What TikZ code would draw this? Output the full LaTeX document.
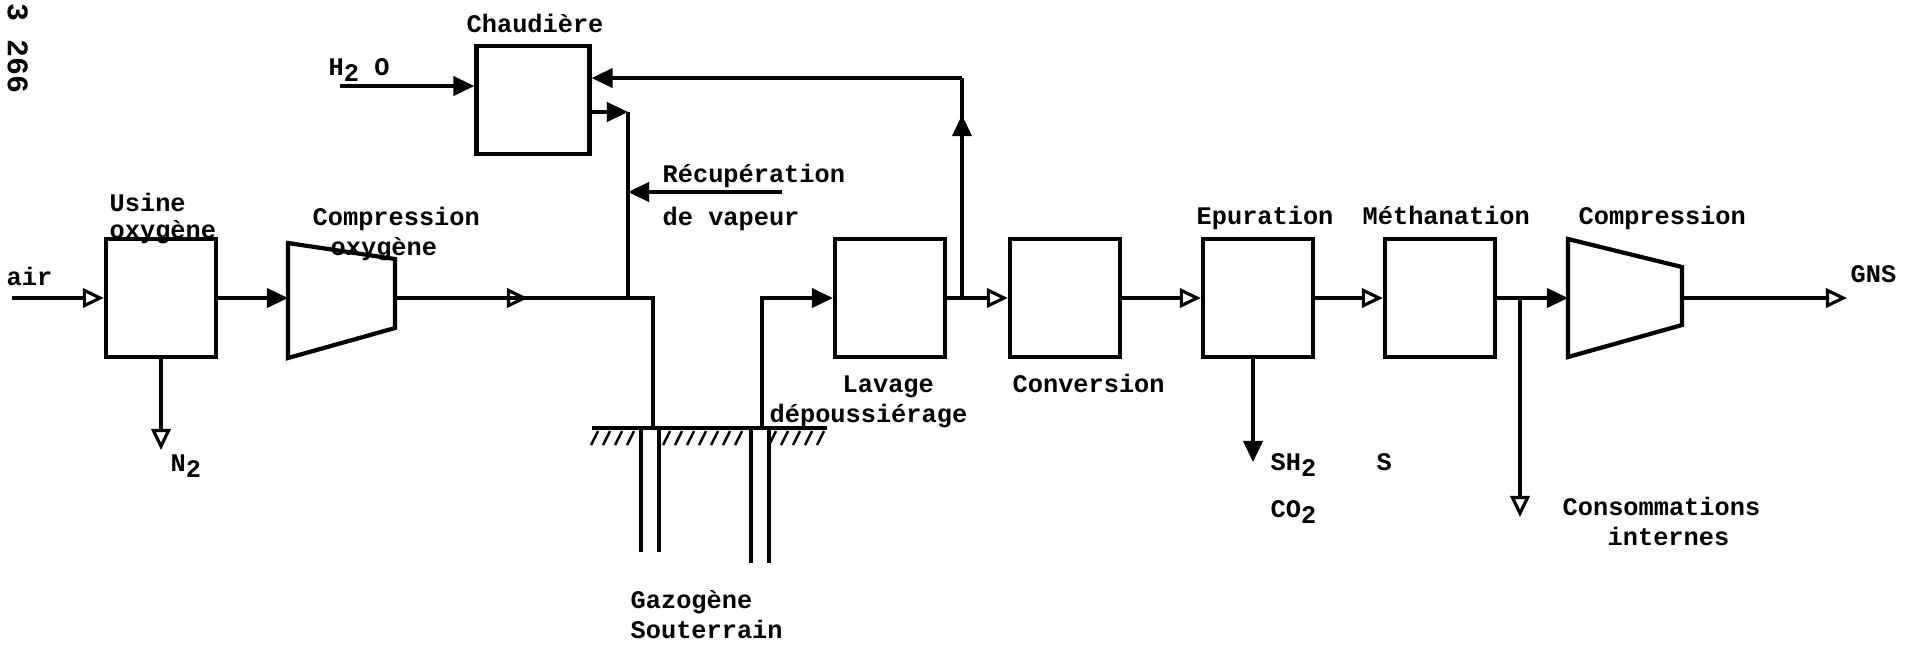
\documentclass[tikz,border=0pt]{standalone}
\usepackage{fontspec}
\setmonofont{Liberation Mono}
\usetikzlibrary{arrows.meta, positioning, calc}
\newcommand{\indice}[1]{\raisebox{-0.45ex}{#1}}

\begin{document}
\begin{tikzpicture}[
  x=0.01cm, y=-0.01cm,
  font=\ttfamily\bfseries\fontsize{7.2}{8.6}\selectfont,
  unit/.style={draw, line width=1.2pt, inner sep=0pt, minimum width=1.1cm, minimum height=1.18cm},
  pipe/.style={line width=0.9pt},
  flow/.style={pipe, -{Triangle[length=6pt, width=5.5pt]}},
  flowopen/.style={pipe, -{Triangle[open, length=6pt, width=5.5pt]}},
  lbl/.style={inner sep=0pt, anchor=base west}
]
\useasboundingbox (0,0) rectangle (1905,647);

\node[unit] (usine) at (161,298) {};
\node[unit, minimum width=1.13cm, minimum height=1.08cm] (chaudiere) at (533,100) {};
\node[unit] (lavage) at (890,298) {};
\node[unit] (conversion) at (1065,298) {};
\node[unit] (epuration) at (1258,298) {};
\node[unit] (methanation) at (1440,298) {};

\coordinate (c1in) at (288,298);
\coordinate (c1out) at (395,298);
\draw[line width=1.2pt] (288,243) -- (395,259) -- (395,328) -- (288,358) -- cycle;
\coordinate (c2in) at (1568,298);
\coordinate (c2out) at (1682,298);
\draw[line width=1.2pt] (1568,239) -- (1682,267) -- (1682,325) -- (1568,357) -- cycle;

\coordinate (airin) at (12,298);
\coordinate (n2) at (161,450);
\coordinate (m1) at (528,298);
\coordinate (j1) at (628,298);
\coordinate (puitsA) at (653,428);
\coordinate (puitsB) at (762,428);
\coordinate (vap) at (628,112);
\coordinate (recup) at (782,192);
\coordinate (h2o) at (340,86);
\coordinate (solW) at (592,428);
\coordinate (solE) at (827,428);
\coordinate (j2) at (962,298);
\coordinate (m2) at (962,115);
\coordinate (ret) at (962,78);
\coordinate (sh2) at (1253,462);
\coordinate (j3) at (1520,298);
\coordinate (conso) at (1520,517);
\coordinate (gns) at (1847,298);

\draw[flowopen] (airin) -- (usine.west);
\draw[flowopen] (usine.south) -- (n2);
\draw[flow] (usine.east) -- (c1in);
\draw[pipe] (c1out) -| (puitsA);
\draw[flowopen] (c1out) -- (m1);
\draw[flow] (h2o) -- (h2o -| chaudiere.west);
\draw[flow] (chaudiere.east |- vap) -- (vap);
\draw[pipe] (vap) -- (j1);
\draw[flow] (recup) -- (recup -| j1);

\draw[pipe] (solW) -- (solE);
\foreach \x in {598,610,...,634, 670,682,...,742, 776,788,...,824}
  \draw[line width=0.7pt] (\x,431) -- ++(-7,14);
\foreach \x/\b in {641/552, 659/552, 751/563, 769/563}
  \draw[pipe] (\x,428) -- (\x,\b);

\draw[flow] (puitsB) |- (lavage.west);
\draw[flowopen] (lavage.east) -- (conversion.west);
\draw[pipe] (j2) -- (ret);
\draw[flow] (j2) -- (m2);
\draw[flow] (ret) -- (ret -| chaudiere.east);
\draw[flowopen] (conversion.east) -- (epuration.west);
\draw[flow] (epuration.south -| sh2) -- (sh2);
\draw[flowopen] (epuration.east) -- (methanation.west);
\draw[flow] (methanation.east) -- (c2in);
\draw[flowopen] (j3) -- (conso);
\draw[flowopen] (c2out) -- (gns);

\node[lbl, rotate=-90, font=\ttfamily\bfseries\fontsize{8.5}{10}\selectfont] (page) at (8,3) {3 266};
\node[lbl] (airlbl) at (6,285) {air};
\node[lbl] (usinelbl) at (109,211) {Usine};
\node[lbl] (usinelbl2) at (109,238) {oxygène};
\node[lbl] (comp1lbl) at (312,225) {Compression};
\node[lbl] (comp1lbl2) at (330,255) {oxygène};
\node[lbl] (chaudlbl) at (466,32) {Chaudière};
\node[lbl] (h2olbl) at (328,75) {H\indice{2} O};
\node[lbl] (recuplbl) at (662,182) {Récupération};
\node[lbl] (recuplbl2) at (662,225) {de vapeur};
\node[lbl] (lavlbl) at (842,392) {Lavage};
\node[lbl] (lavlbl2) at (769,422) {dépoussiérage};
\node[lbl] (convlbl) at (1012,392) {Conversion};
\node[lbl] (gazlbl) at (630,608) {Gazogène};
\node[lbl] (gazlbl2) at (630,638) {Souterrain};
\node[lbl] (n2lbl) at (170,471) {N\indice{2}};
\node[lbl] (epurlbl) at (1196,224) {Epuration};
\node[lbl] (methlbl) at (1362,224) {Méthanation};
\node[lbl] (comp2lbl) at (1578,224) {Compression};
\node[lbl] (gnslbl) at (1850,282) {GNS};
\node[lbl] (sh2lbl) at (1270,470) {SH\indice{2}};
\node[lbl] (slbl) at (1376,470) {S};
\node[lbl] (co2lbl) at (1270,517) {CO\indice{2}};
\node[lbl] (consolbl) at (1562,515) {Consommations};
\node[lbl] (consolbl2) at (1607,545) {internes};
\end{tikzpicture}
\end{document}
